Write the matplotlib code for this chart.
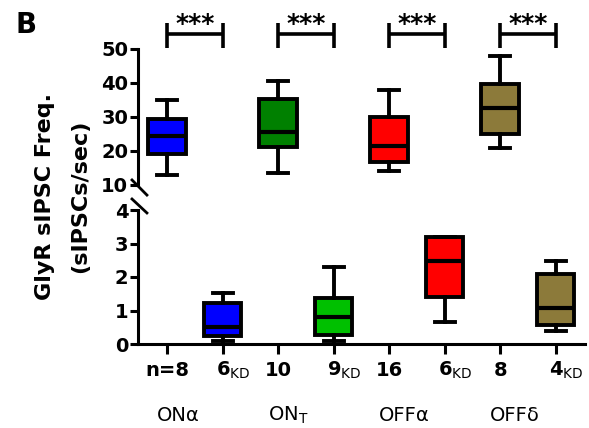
import matplotlib
matplotlib.use("Agg")
import matplotlib.pyplot as plt
from matplotlib import transforms

plt.rcParams['font.family'] = ['DejaVu Sans']
plt.rcParams['mathtext.fontset'] = 'custom'
plt.rcParams['mathtext.rm'] = 'DejaVu Sans'
plt.rcParams['mathtext.it'] = 'DejaVu Sans:italic'
plt.rcParams['mathtext.bf'] = 'DejaVu Sans:bold'

# ---- data ----
ctrl_pos = [1, 3, 5, 7]
kd_pos = [2, 4, 6, 8]
ctrl_whislo = [13.0, 13.5, 14.1, 20.9]
ctrl_q1 = [19.0, 21.2, 16.8, 25.0]
ctrl_med = [24.3, 25.6, 21.5, 32.6]
ctrl_q3 = [29.4, 35.3, 30.0, 39.7]
ctrl_whishi = [35.0, 40.6, 37.9, 48.0]
kd_whislo = [0.09, 0.10, 0.66, 0.39]
kd_q1 = [0.24, 0.27, 1.40, 0.57]
kd_med = [0.51, 0.81, 2.48, 1.07]
kd_q3 = [1.22, 1.37, 3.20, 2.10]
kd_whishi = [1.52, 2.30, 3.20, 2.48]
ctrl_colors = ['#0000FF', '#008000', '#FF0000', '#8C7A3A']
kd_colors = ['#0000FF', '#00C000', '#FF0000', '#8C7A3A']
n_ctrl = ['n=8', '10', '16', '8']
n_kd = ['6', '9', '6', '4']
groups = ['ONα', 'ON$_{\\mathrm{T}}$', 'OFFα', 'OFFδ']
sig = ['***', '***', '***', '***']
upper_ticks = [10, 20, 30, 40, 50]
lower_ticks = [0, 1, 2, 3, 4]

W, H = 589, 428
fig = plt.figure(figsize=(W / 100, H / 100), dpi=100)
ax_top = fig.add_axes([138 / W, 1 - 185 / H, 447 / W, 136 / H])
ax_bot = fig.add_axes([138 / W, 1 - 344 / H, 447 / W, 134 / H])

LW = 2.2
xlim = (0.477, 8.53)


def draw(ax, pos, lo, q1, med, q3, hi, colors):
    stats = [dict(whislo=a, q1=b, med=c, q3=d, whishi=e, fliers=[])
             for a, b, c, d, e in zip(lo, q1, med, q3, hi)]
    bp = ax.bxp(stats, positions=pos, widths=0.67, capwidths=0.36,
                patch_artist=True, showfliers=False,
                boxprops=dict(linewidth=2.8, edgecolor='black'),
                medianprops=dict(linewidth=3, color='black'),
                whiskerprops=dict(linewidth=2.8, color='black'),
                capprops=dict(linewidth=2.8, color='black'),
                manage_ticks=False, zorder=3)
    for patch, c in zip(bp['boxes'], colors):
        patch.set_facecolor(c)
    for k in ['whiskers', 'caps', 'medians']:
        for art in bp[k]:
            art.set_clip_on(False)


draw(ax_top, ctrl_pos, ctrl_whislo, ctrl_q1, ctrl_med, ctrl_q3, ctrl_whishi, ctrl_colors)
draw(ax_bot, kd_pos, kd_whislo, kd_q1, kd_med, kd_q3, kd_whishi, kd_colors)

for ax in (ax_top, ax_bot):
    ax.set_xlim(*xlim)
    ax.spines['top'].set_visible(False)
    ax.spines['right'].set_visible(False)
    ax.spines['left'].set_linewidth(LW)
    ax.spines['bottom'].set_linewidth(LW)
    ax.tick_params(axis='y', width=LW, length=6, pad=1, labelsize=14)
    ax.patch.set_alpha(0)

ax_top.set_ylim(10, 50)
ax_top.set_yticks(upper_ticks)
ax_top.set_yticklabels([str(t) for t in upper_ticks], fontweight='bold', fontsize=14)
ax_top.spines['bottom'].set_visible(False)
ax_top.set_xticks([])

ax_bot.set_ylim(0, 4)
ax_bot.set_yticks(lower_ticks)
ax_bot.set_yticklabels([str(t) for t in lower_ticks], fontweight='bold', fontsize=14)
ax_bot.set_xticks(sorted(ctrl_pos + kd_pos))
ax_bot.set_xticklabels([])
ax_bot.tick_params(axis='x', width=LW, length=7)

# x labels
tb = transforms.blended_transform_factory(ax_bot.transData, ax_bot.transAxes)
ylab = -0.2
for p, t in zip(ctrl_pos, n_ctrl):
    ax_bot.text(p, ylab, t, transform=tb, ha='center', va='center',
                fontsize=14, fontweight='bold')
for p, t in zip(kd_pos, n_kd):
    ax_bot.annotate(t + '$_{\\mathrm{KD}}$', xy=(p, ylab), xycoords=tb,
                    xytext=(-4.9, 0), textcoords='offset points',
                    ha='left', va='center', fontsize=14, fontweight='bold')
for p, g in zip(ctrl_pos, groups):
    ax_bot.annotate(g, xy=(p, -0.53), xycoords=tb, xytext=(-7, 0),
                    textcoords='offset points', ha='left', va='center',
                    fontsize=14)

# significance brackets (|—| shape)
bk = dict(color='black', lw=2.6, clip_on=False, solid_capstyle='butt')
for p1, p2, s in zip(ctrl_pos, kd_pos, sig):
    ax_top.plot([p1, p2], [54.4, 54.4], **bk)
    ax_top.plot([p1, p1], [50.3, 57.7], **bk)
    ax_top.plot([p2, p2], [50.3, 57.7], **bk)
    ax_top.text((p1 + p2) / 2, 53.7, s, ha='center', va='bottom',
                fontsize=18, fontweight='bold')

# break marks
kw = dict(color='black', lw=2.0, clip_on=False)
ax_top.plot([-0.0134, 0.020], [0.037, -0.074], transform=ax_top.transAxes, **kw)
ax_bot.plot([-0.0134, 0.020], [1.082, 0.978], transform=ax_bot.transAxes, **kw)

# y label
fig.text(45 / W, 1 - 196 / H, 'GlyR sIPSC Freq.', rotation=90, ha='center',
         va='center', fontsize=16, fontweight='bold')
fig.text(80 / W, 1 - 196 / H, '(sIPSCs/sec)', rotation=90, ha='center',
         va='center', fontsize=16, fontweight='bold')

fig.text(15 / W, 1 - 25 / H, 'B', ha='left', va='center', fontsize=20,
         fontweight='bold')

fig.savefig('out.png', dpi=100)
